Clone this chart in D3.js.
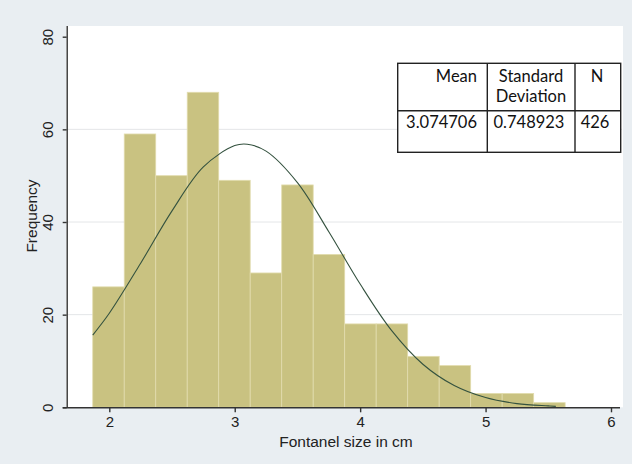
<!DOCTYPE html>
<html>
<head>
<meta charset="utf-8">
<script src="https://cdn.jsdelivr.net/npm/d3@7"></script>
<style>
  body { margin: 0; background: #e9eef2; }
  svg { display: block; }
</style>
</head>
<body>
<div class="chart-area"></div>
<script>
// histogram data
var binStart = 1.868;
var binWidth = 0.2511;
var counts = [26, 59, 50, 68, 49, 29, 48, 33, 18, 18, 11, 9, 3, 3, 1];

// overlaid normal curve
var curveX = [1.868, 2.0, 2.25, 2.5, 2.75, 3.0, 3.1, 3.25, 3.5, 3.75, 4.0, 4.25, 4.5, 4.75, 5.0, 5.25, 5.5, 5.56];
var curveY = [15.6, 20.3, 31.1, 42.4, 51.9, 56.5, 56.8, 55.3, 48.5, 37.9, 26.6, 16.6, 9.3, 4.7, 2.1, 0.8, 0.3, 0.2];

var xTicks = [2, 3, 4, 5, 6];
var yTicks = [0, 20, 40, 60, 80];

// summary table
var tableHeaders = [["Mean"], ["Standard", "Deviation"], ["N"]];
var tableValues = ["3.074706", "0.748923", "426"];

var width = 632, height = 464;

var svg = d3.select(".chart-area").append("svg")
    .attr("width", width)
    .attr("height", height);

svg.append("rect")
    .attr("width", width)
    .attr("height", height)
    .attr("fill", "#e9eef2");

var x = d3.scaleLinear().domain([2, 6]).range([109.3, 611]);
var y = d3.scaleLinear().domain([0, 80]).range([407.3, 36.7]);

// white plot region
svg.append("rect")
    .attr("x", 66)
    .attr("y", 26)
    .attr("width", 557)
    .attr("height", 381.3)
    .attr("fill", "white");

// gridlines
svg.selectAll("line.grid")
    .data([20, 40, 60])
    .enter()
    .append("line")
    .attr("class", "grid")
    .attr("x1", 67)
    .attr("x2", 622)
    .attr("y1", function(d) { return y(d); })
    .attr("y2", function(d) { return y(d); })
    .attr("stroke", "#e4e6e8")
    .attr("stroke-width", 1);

// bars
svg.selectAll("rect.bar")
    .data(counts)
    .enter()
    .append("rect")
    .attr("class", "bar")
    .attr("x", function(d, i) { return x(binStart + i * binWidth); })
    .attr("width", function(d, i) {
        return x(binStart + (i + 1) * binWidth) - x(binStart + i * binWidth);
    })
    .attr("y", function(d) { return y(d); })
    .attr("height", function(d) { return y(0) - y(d); })
    .attr("fill", "#c9c281")
    .attr("stroke", "#e2dcae")
    .attr("stroke-width", 0.8);

// normal curve
var line = d3.line()
    .x(function(d) { return x(d[0]); })
    .y(function(d) { return y(d[1]); })
    .curve(d3.curveCatmullRom);

svg.append("path")
    .datum(d3.zip(curveX, curveY))
    .attr("d", line)
    .attr("fill", "none")
    .attr("stroke", "#34523f")
    .attr("stroke-width", 1.1);

// x axis
var xAxis = svg.append("g")
    .attr("transform", "translate(0," + y(0) + ")")
    .call(d3.axisBottom(x).tickValues(xTicks).tickSize(5).tickPadding(4).tickFormat(d3.format("d")));
xAxis.select(".domain").attr("d", "M62.7,0.5H620").attr("stroke", "#333").attr("stroke-width", 1.4);
xAxis.selectAll(".tick line").attr("stroke", "#333").attr("stroke-width", 1.4);
xAxis.selectAll(".tick text")
    .attr("font-family", "Liberation Sans, Arial, sans-serif")
    .attr("font-size", 15)
    .attr("fill", "#222");

// y axis
var yAxis = svg.append("g")
    .attr("transform", "translate(66.7,0)")
    .call(d3.axisLeft(y).tickValues(yTicks).tickSize(4));
yAxis.select(".domain").attr("d", "M0.5,26V407.3").attr("stroke", "#333").attr("stroke-width", 1.4);
yAxis.selectAll(".tick line").attr("stroke", "#333").attr("stroke-width", 1.4);
yAxis.selectAll(".tick text")
    .attr("font-family", "Liberation Sans, Arial, sans-serif")
    .attr("font-size", 15)
    .attr("fill", "#222")
    .attr("x", null)
    .attr("dy", null)
    .attr("text-anchor", "middle")
    .attr("transform", "translate(-14,0) rotate(-90)");

// axis titles
svg.append("text")
    .attr("x", 346)
    .attr("y", 447)
    .attr("text-anchor", "middle")
    .attr("font-family", "Liberation Sans, Arial, sans-serif")
    .attr("font-size", 15.5)
    .attr("fill", "#222")
    .text("Fontanel size in cm");

svg.append("text")
    .attr("transform", "translate(37,216) rotate(-90)")
    .attr("text-anchor", "middle")
    .attr("font-family", "Liberation Sans, Arial, sans-serif")
    .attr("font-size", 15.5)
    .attr("fill", "#222")
    .text("Frequency");

// summary table
var cols = [397.7, 487.3, 575, 620.7];
var tTop = 63.3, tMid = 110.7, tBot = 152.3;
var table = svg.append("g");

table.append("rect")
    .attr("x", cols[0])
    .attr("y", tTop)
    .attr("width", cols[3] - cols[0])
    .attr("height", tBot - tTop)
    .attr("fill", "white")
    .attr("stroke", "#222")
    .attr("stroke-width", 1.4);

table.selectAll("line.col")
    .data([cols[1], cols[2]])
    .enter()
    .append("line")
    .attr("x1", function(d) { return d; })
    .attr("x2", function(d) { return d; })
    .attr("y1", tTop)
    .attr("y2", tBot)
    .attr("stroke", "#222")
    .attr("stroke-width", 1.4);

table.append("line")
    .attr("x1", cols[0])
    .attr("x2", cols[3])
    .attr("y1", tMid)
    .attr("y2", tMid)
    .attr("stroke", "#222")
    .attr("stroke-width", 1.4);

var headX = [477, 531, 597];
var headAnchor = ["end", "middle", "middle"];
var valX = [477, 529, 595];
var valAnchor = ["end", "middle", "middle"];

tableHeaders.forEach(function(lines, i) {
    lines.forEach(function(t, j) {
        table.append("text")
            .attr("x", headX[i])
            .attr("y", 81.7 + j * 20)
            .attr("text-anchor", headAnchor[i])
            .attr("font-family", "Lato, sans-serif")
            .attr("font-size", 16.5)
            .attr("fill", "#111")
            .text(t);
    });
});

table.selectAll("text.val")
    .data(tableValues)
    .enter()
    .append("text")
    .attr("class", "val")
    .attr("x", function(d, i) { return valX[i]; })
    .attr("y", 128.3)
    .attr("text-anchor", function(d, i) { return valAnchor[i]; })
    .attr("font-family", "Lato, sans-serif")
    .attr("font-size", 16.5)
    .attr("fill", "#111")
    .text(function(d) { return d; });
</script>
</body>
</html>
